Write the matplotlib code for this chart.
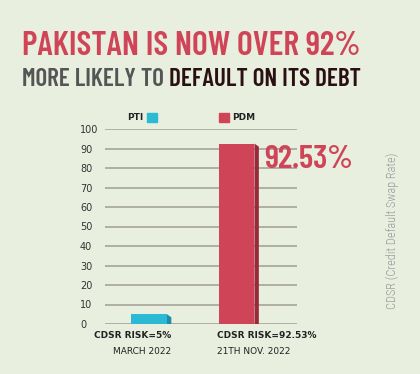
import matplotlib
matplotlib.use("Agg")
import matplotlib.pyplot as plt
from matplotlib import font_manager
from matplotlib.patches import Polygon, Rectangle
import matplotlib.transforms as mtransforms

# ---------------------------------------------------------------------------
# Data
# ---------------------------------------------------------------------------
parties = ["PTI", "PDM"]
risk = [5, 92.53]
risk_labels = ["CDSR RISK=5%", "CDSR RISK=92.53%"]
dates = ["MARCH 2022", "21TH NOV. 2022"]
yticks = list(range(0, 101, 10))
headline = "PAKISTAN IS NOW OVER 92%"
sub_a = "MORE LIKELY TO "
sub_b = "DEFAULT ON ITS DEBT"
side_note = "CDSR (Credit Default Swap Rate)"

BG = "#e8efdf"
COLORS = ["#2bb9d3", "#cf4456"]
SIDES = ["#1d8ea4", "#9a2a39"]
GRID = "#b0afa5"

fonts = font_manager.fontManager.ttflist


def pick(cands, min_weight):
    # first family that has a face at least as heavy as min_weight
    for c in cands:
        ws = sorted(f.weight for f in fonts if f.name == c and isinstance(f.weight, int))
        heavy = [w for w in ws if w >= min_weight]
        if heavy:
            return c, heavy[0]
    return "DejaVu Sans", "bold"


NARROW, NW = pick(["Barlow Condensed", "Roboto Condensed", "Oswald", "Fjalla One"], 600)
THIN, TW = pick(["Roboto Condensed", "Barlow Condensed", "Oswald"], 300)

W, H = 420, 374
fig = plt.figure(figsize=(W / 100, H / 100), dpi=100, facecolor=BG)
renderer = fig.canvas.get_renderer()


def fx(px):
    return px / W


def fy(py):
    return (H - py) / H


def fit(t, width_px, vertical=False):
    bb = t.get_window_extent(renderer)
    size = bb.height if vertical else bb.width
    t.set_fontsize(t.get_fontsize() * width_px / size)
    return t


# ---------------------------------------------------------------------------
# Bars
# ---------------------------------------------------------------------------
ax = fig.add_axes([fx(105), fy(324), 192 / W, 195 / H])
ax.set_facecolor(BG)
x = list(range(len(parties)))
bw = 0.41
depth = 0.05
slant = 1.6
ax.bar(x, risk, width=bw, color=COLORS, zorder=3)
for xi, v, sc in zip(x, risk, SIDES):
    xr = xi + bw / 2
    ax.add_patch(Polygon([(xr, v), (xr + depth, v - slant), (xr + depth, 0), (xr, 0)],
                         closed=True, color=sc, zorder=3, lw=0))

ax.set_xlim(-0.503, 1.691)
ax.set_ylim(0, 100)
ax.set_yticks(yticks)
ax.grid(axis="y", color=GRID, lw=1.4, zorder=1)
ax.set_xticks([])
for s in ax.spines.values():
    s.set_visible(False)
ax.tick_params(axis="y", length=0, pad=18, labelsize=7, labelcolor="#333333")
for lab in ax.get_yticklabels():
    lab.set_horizontalalignment("left")

# value callout
big = ax.annotate(f"{risk[1]:.2f}%", (1 + bw / 2 + depth, risk[1]),
                  xytext=(3.6, -17.6), textcoords="offset points",
                  ha="left", va="baseline", color=COLORS[1],
                  fontsize=30, fontweight=NW, family=NARROW)
fit(big, 89)

# category labels under bars
trans = mtransforms.blended_transform_factory(ax.transData, fig.transFigure)
ax.text(x[0] + bw / 2 + depth, fy(336), risk_labels[0], transform=trans,
        ha="right", va="center", fontsize=6.5, fontweight="bold", color="#222222")
ax.text(x[0] + bw / 2 + depth, fy(351), dates[0], transform=trans,
        ha="right", va="center", fontsize=6.5, color="#222222")
ax.text(x[1] - bw / 2 - 0.02, fy(336), risk_labels[1], transform=trans,
        ha="left", va="center", fontsize=6.5, fontweight="bold", color="#222222")
ax.text(x[1] - bw / 2 - 0.02, fy(351), dates[1], transform=trans,
        ha="left", va="center", fontsize=6.5, color="#222222")

# legend
fig.text(fx(143), fy(117.5), parties[0], ha="right", va="center",
         fontsize=6.5, fontweight="bold", color="#222222")
fig.patches.append(Rectangle((fx(147), fy(122)), 10 / W, 9 / H, color=COLORS[0],
                             transform=fig.transFigure, figure=fig))
fig.patches.append(Rectangle((fx(219), fy(122)), 10 / W, 9 / H, color=COLORS[1],
                             transform=fig.transFigure, figure=fig))
fig.text(fx(232), fy(117.5), parties[1], ha="left", va="center",
         fontsize=6.5, fontweight="bold", color="#222222")

# ---------------------------------------------------------------------------
# Headline
# ---------------------------------------------------------------------------
t1 = fig.text(fx(22), fy(55), headline, ha="left", va="baseline",
              fontsize=26, fontweight=NW, color=COLORS[1], family=NARROW)
fit(t1, 339)
t2 = fig.text(fx(22), fy(86), sub_a, ha="left", va="baseline",
              fontsize=20, fontweight=NW, color="#555555", family=NARROW)
t3 = fig.text(fx(22), fy(86), sub_b, ha="left", va="baseline",
              fontsize=20, fontweight=NW, color="#2a1012", family=NARROW)
w2 = t2.get_window_extent(renderer).width
w3 = t3.get_window_extent(renderer).width
scale = 339 / (w2 + w3)
t2.set_fontsize(20 * scale)
t3.set_fontsize(20 * scale)
t3.set_x(fx(22 + w2 * scale))

side = fig.text(fx(392), fy(231), side_note, rotation=90, ha="center", va="center",
                fontsize=9, fontweight=TW, color="#9a9a9a", family=THIN)
fit(side, 157, vertical=True)

fig.savefig("out.png", dpi=100, facecolor=BG)
